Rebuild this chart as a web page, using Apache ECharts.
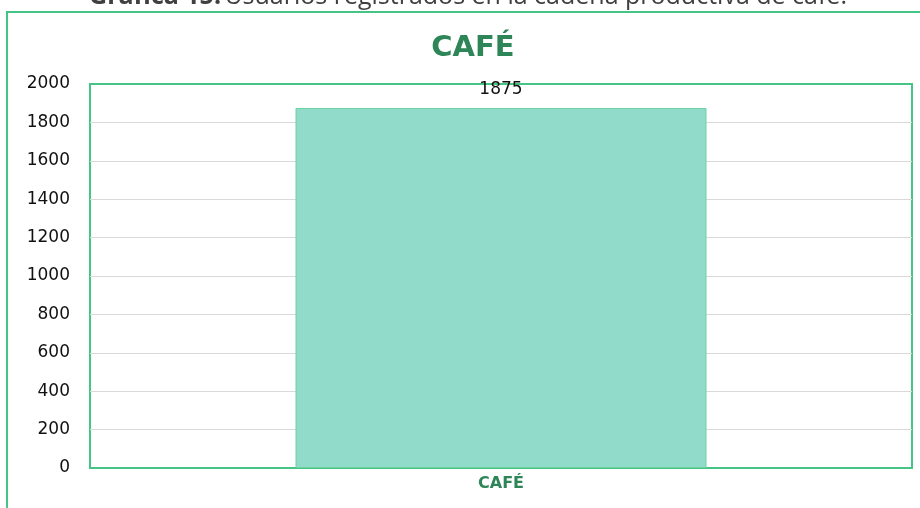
<!DOCTYPE html>
<html>
<head>
<meta charset="utf-8">
<script src="https://cdn.jsdelivr.net/npm/echarts@6/dist/echarts.min.js"></script>
<style>
  html, body { margin: 0; padding: 0; background: #fff; }
  #echarts_id { width: 920px; height: 508px; }
</style>
</head>
<body>
<div id="echarts_id"></div>
<script>
// datos de la gráfica
var categorias = ['CAFÉ'];
var usuarios = [1875];
var ticksY = ['0', '200', '400', '600', '800', '1000', '1200', '1400', '1600', '1800', '2000'];

var myChart = echarts.init(document.getElementById('echarts_id'));

var option = {
    backgroundColor: '#ffffff',
    animation: false,
    title: {
        text: 'CAFÉ',
        left: 468,
        top: 29,
        textAlign: 'center',
        textStyle: {
            color: '#2e8557',
            fontSize: 29,
            fontWeight: 'bold',
            fontFamily: 'DejaVu Sans'
        }
    },
    graphic: [
        {
            type: 'rect',
            shape: { x: 7, y: 12, width: 930, height: 520 },
            style: { fill: 'none', stroke: '#45c585', lineWidth: 2 },
            silent: true,
            z: 10
        },
        {
            type: 'text',
            x: 468,
            y: 9,
            style: {
                align: 'center',
                verticalAlign: 'bottom',
                rich: {
                    b: { fontWeight: 'bold', fontSize: 25, fill: '#404040', fontFamily: 'Open Sans' },
                    n: { fontSize: 25, fill: '#404040', fontFamily: 'Open Sans' }
                },
                text: '{b|Gráfica 15:} {n|Usuarios registrados en la cadena productiva de café.}'
            }
        }
    ],
    grid: {
        left: 90,
        right: 8,
        top: 84,
        bottom: 40,
        show: true,
        borderColor: '#45c585',
        borderWidth: 2,
        containLabel: false
    },
    xAxis: {
        type: 'category',
        data: categorias,
        axisLine: { show: false },
        axisTick: { show: false },
        axisLabel: {
            color: '#2e8557',
            fontWeight: 'bold',
            fontSize: 16,
            fontFamily: 'DejaVu Sans',
            margin: 8
        }
    },
    yAxis: {
        type: 'value',
        min: 0,
        max: 2000,
        interval: 200,
        axisLine: { show: false },
        axisTick: { show: false },
        axisLabel: {
            color: '#111',
            fontSize: 17,
            fontFamily: 'DejaVu Sans',
            margin: 20,
            formatter: function (v) { return ticksY[Math.round(v / 200)]; }
        },
        splitLine: {
            showMinLine: false,
            showMaxLine: false,
            lineStyle: { color: '#d9d9d9', width: 1 }
        }
    },
    series: [{
        name: 'Usuarios',
        type: 'bar',
        data: usuarios,
        barWidth: '50%',
        itemStyle: {
            color: '#91dbca',
            borderColor: '#6dd29e',
            borderWidth: 1
        },
        label: {
            show: true,
            position: 'top',
            distance: 10,
            color: '#111',
            fontSize: 17,
            fontFamily: 'DejaVu Sans'
        }
    }]
};

myChart.setOption(option);
</script>
</body>
</html>
